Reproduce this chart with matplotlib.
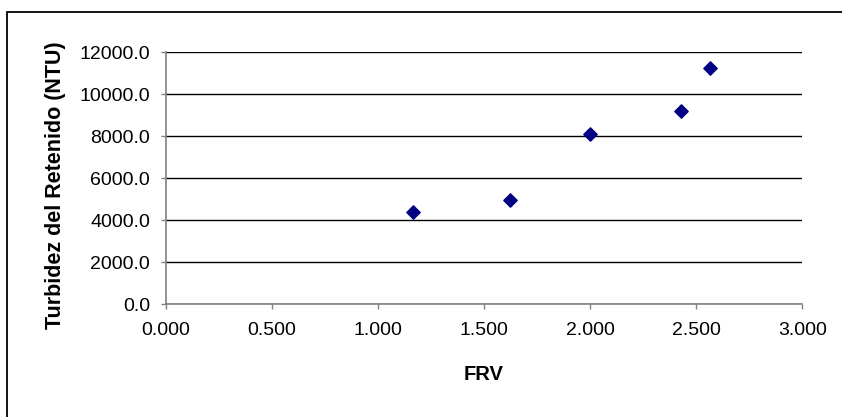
import matplotlib
matplotlib.use("Agg")
import matplotlib.pyplot as plt
from matplotlib.patches import Rectangle
from matplotlib.ticker import FormatStrFormatter, MultipleLocator

plt.rcParams['font.family'] = ['Liberation Sans', 'DejaVu Sans']

# Data
frv = [1.164, 1.623, 1.998, 2.430, 2.567]
turbidez = [4395, 4952, 8095, 9219, 11252]

fig = plt.figure(figsize=(8.42, 4.17), dpi=100)
ax = fig.add_axes([0.1968, 0.2703, 0.7560, 0.6043])

# outer chart frame (right/bottom edges run off the picture)
fig.patches.append(Rectangle((6.7 / 842, -0.05), 1.2, 1 - 11.7 / 417 + 0.05,
                             transform=fig.transFigure, fill=False,
                             edgecolor='black', linewidth=1.3))

ax.scatter(frv, turbidez, marker='D', s=46, color='#000080', zorder=3)

ax.set_xlim(0, 3)
ax.set_ylim(0, 12000)
ax.xaxis.set_major_locator(MultipleLocator(0.5))
ax.yaxis.set_major_locator(MultipleLocator(2000))
ax.xaxis.set_major_formatter(FormatStrFormatter('%.3f'))
ax.yaxis.set_major_formatter(FormatStrFormatter('%.1f'))

ax.grid(axis='y', color='black', linewidth=1)
ax.set_axisbelow(True)
for s in ['top', 'right']:
    ax.spines[s].set_visible(False)
for s in ['left', 'bottom']:
    ax.spines[s].set_color('#808080')
    ax.spines[s].set_linewidth(1.2)

ax.tick_params(axis='both', direction='out', length=3.6, width=1,
               color='#808080', labelsize=14)
ax.tick_params(axis='x', pad=9.4)
ax.tick_params(axis='y', pad=7.7)

ax.set_xlabel('FRV', fontsize=14.5, fontweight='bold')
ax.xaxis.set_label_coords(0.5, -0.2806)
ax.xaxis.label.set_va('center')
ax.set_ylabel('Turbidez del Retenido (NTU)', fontsize=15.5, fontweight='bold')
ax.yaxis.set_label_coords(-0.1739, 0.4714)
ax.yaxis.label.set_va('center')

fig.savefig('out.png', dpi=100)
